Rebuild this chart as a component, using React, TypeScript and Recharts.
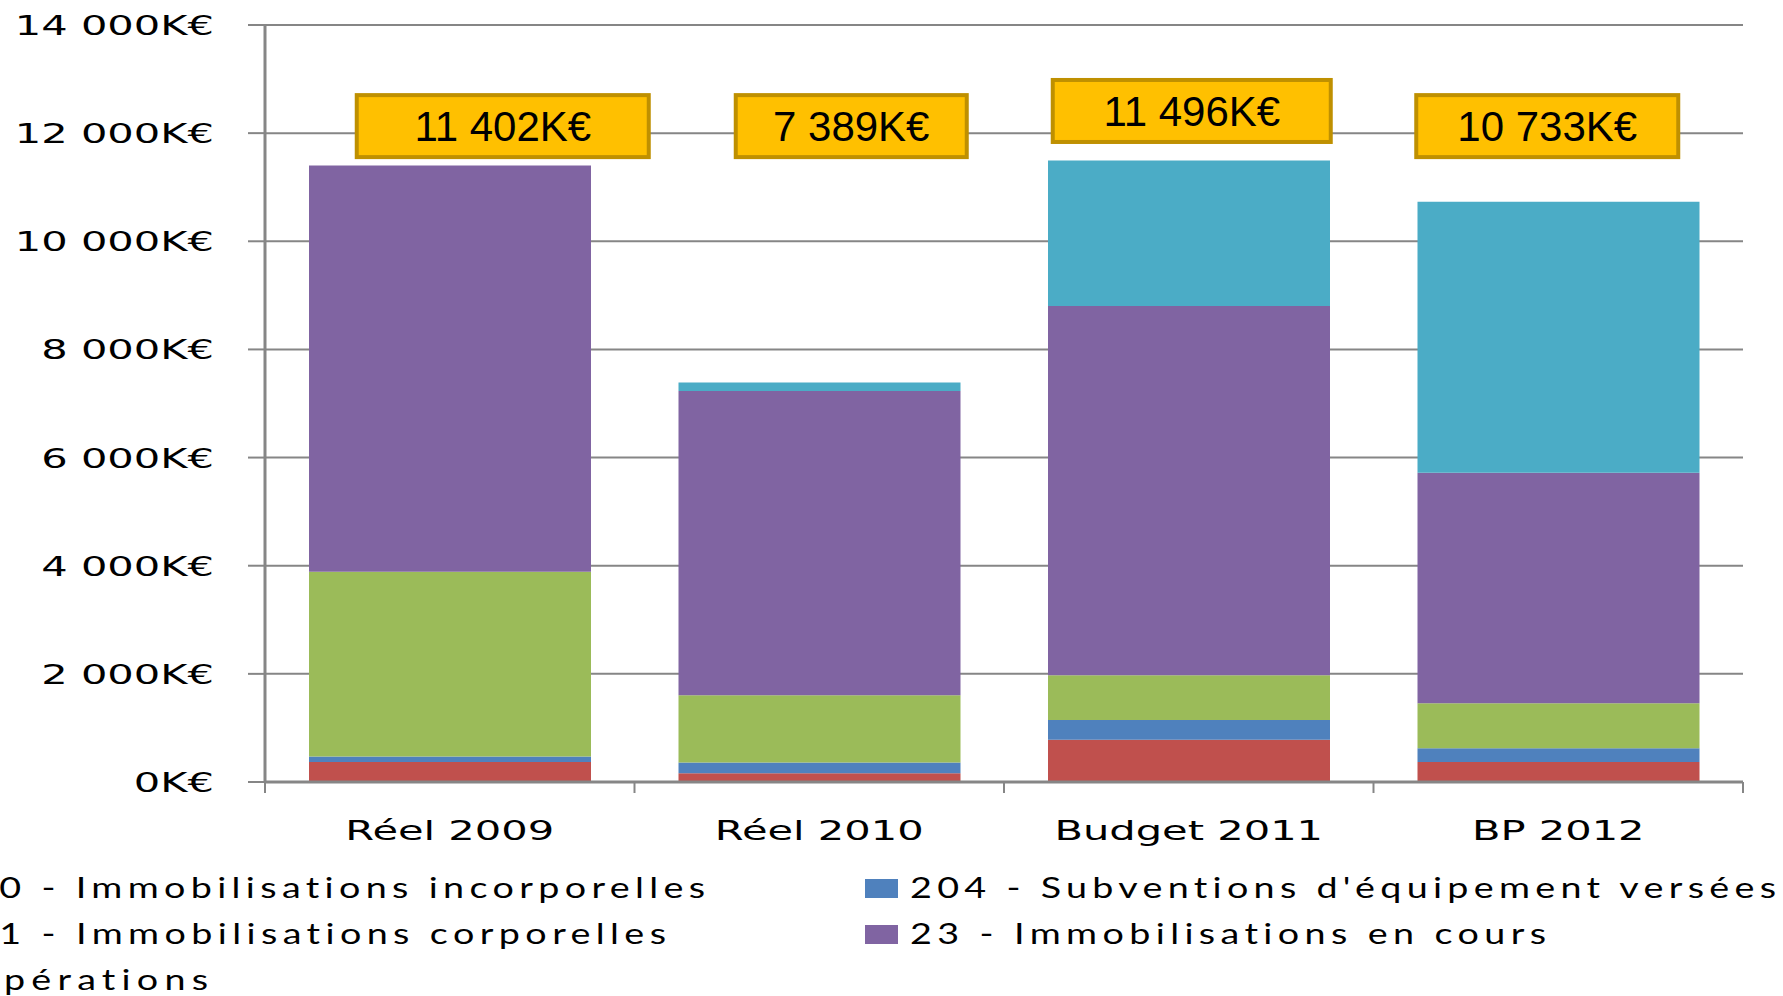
import React from 'react'
import {
  BarChart,
  Bar,
  XAxis,
  YAxis,
  CartesianGrid,
  ReferenceDot,
} from 'recharts'

const categories = ['Réel 2009', 'Réel 2010', 'Budget 2011', 'BP 2012']
const incorporelles = [370, 160, 780, 370]
const subventions = [100, 200, 365, 255]
const corporelles = [3419, 1245, 830, 830]
const enCours = [7513, 5625, 6830, 4265]
const operations = [0, 159, 2691, 5013]
const totals = [11402, 7389, 11496, 10733]
// level (in K€) where each total box sits
const labelLevels = [12130, 12130, 12410, 12130]
const yTicks = [0, 2000, 4000, 6000, 8000, 10000, 12000, 14000]

const seriesNames = [
  '20 - Immobilisations incorporelles',
  '204 - Subventions d\'équipement versées',
  '21 - Immobilisations corporelles',
  '23 - Immobilisations en cours',
  'Opérations',
]

const COLORS = ['#C0504D', '#4F81BD', '#9BBB59', '#8064A2', '#4BACC6']
const GRID = '#868686'
// box look per category (horizontal shift and width in px)
const BOX_SHIFT = [53, 32, 3, -11]
const BOX_WIDTH = [292, 231, 278, 262]
const LEGEND_STRETCH = 1.3

const data = categories.map((c, i) => ({
  name: c,
  incorporelles: incorporelles[i],
  subventions: subventions[i],
  corporelles: corporelles[i],
  enCours: enCours[i],
  operations: operations[i],
}))

function formatK(v: number): string {
  const s = String(v)
  if (v >= 1000) return `${s.slice(0, s.length - 3)} ${s.slice(-3)}K€`
  return `${s}K€`
}

function YTick(props: any) {
  const { x, y, payload } = props
  return (
    <g transform={`translate(${x},${y + 10})`}>
      <text
        x={0}
        y={0}
        transform="scale(1.6,1)"
        textAnchor="end"
        fontFamily="DejaVu Sans"
        fontSize={26}
        fill="#000"
      >
        {formatK(payload.value)}
      </text>
    </g>
  )
}

// category label + Excel-style tick marks between categories
function XTick(props: any) {
  const { x, y, payload, index } = props
  const half = payload.offset || 0
  const last = index === categories.length - 1
  return (
    <g>
      <line x1={x - half} x2={x - half} y1={y} y2={y + 11} stroke={GRID} strokeWidth={2} />
      {last && (
        <line x1={x + half} x2={x + half} y1={y} y2={y + 11} stroke={GRID} strokeWidth={2} />
      )}
      <g transform={`translate(${x},${y + 58})`}>
        <text
          x={0}
          y={0}
          transform="scale(1.6,1)"
          textAnchor="middle"
          fontFamily="DejaVu Sans"
          fontSize={26}
          fill="#000"
        >
          {payload.value}
        </text>
      </g>
    </g>
  )
}

function TotalBox(i: number) {
  return (p: any) => {
    const cx = p.cx + BOX_SHIFT[i]
    const w = BOX_WIDTH[i]
    return (
      <g>
        <rect
          x={cx - w / 2}
          y={p.cy - 31}
          width={w}
          height={62}
          fill="#FFC000"
          stroke="#BF9000"
          strokeWidth={4}
        />
        <text
          x={cx}
          y={p.cy + 15}
          textAnchor="middle"
          fontFamily="Liberation Sans"
          fontSize={42}
          fill="#000"
        >
          {formatK(totals[i])}
        </text>
      </g>
    )
  }
}

const legendItems = [
  { x: -28, y: 898, w: 733, idx: 0 },
  { x: 910, y: 898, w: 866, idx: 1 },
  { x: -28, y: 944, w: 694, idx: 2 },
  { x: 910, y: 944, w: 636, idx: 3 },
  { x: -32, y: 990, w: 240, idx: 4 },
]

function LegendOverlay() {
  return (
    <svg
      width={1783}
      height={996}
      style={{ position: 'absolute', left: 0, top: 0, pointerEvents: 'none' }}
    >
      {legendItems.map((it) => (
        <g key={it.idx}>
          <rect x={it.x - 45} y={it.y - 19} width={33} height={19} fill={COLORS[it.idx]} />
          <g transform={`translate(${it.x},${it.y}) scale(${LEGEND_STRETCH},1)`}>
            <text
              x={0}
              y={0}
              textLength={it.w / LEGEND_STRETCH}
              lengthAdjust="spacing"
              fontFamily="Lato"
              fontSize={29}
              fill="#000"
              style={{ fontVariantLigatures: 'none' }}
            >
              {seriesNames[it.idx]}
            </text>
          </g>
        </g>
      ))}
    </svg>
  )
}

export default function App() {
  return (
    <div
      style={{
        position: 'absolute',
        left: 0,
        top: 0,
        width: 1783,
        height: 996,
        overflow: 'hidden',
        background: '#fff',
      }}
    >
      <BarChart
        width={1783}
        height={996}
        data={data}
        margin={{ top: 25, right: 40, left: 0, bottom: 0 }}
        barSize={282}
      >
        <CartesianGrid horizontal vertical={false} stroke={GRID} strokeWidth={2} />
        <XAxis
          dataKey="name"
          height={214}
          axisLine={{ stroke: GRID, strokeWidth: 3 }}
          tickLine={false}
          tickSize={0}
          tickMargin={0}
          tick={<XTick />}
          interval={0}
        />
        <YAxis
          width={265}
          domain={[0, 14000]}
          ticks={yTicks}
          axisLine={{ stroke: GRID, strokeWidth: 3 }}
          tickLine={{ stroke: GRID, strokeWidth: 2 }}
          tickSize={17}
          tickMargin={34}
          tick={<YTick />}
          interval={0}
        />
        <Bar dataKey="incorporelles" stackId="a" fill={COLORS[0]} isAnimationActive={false} />
        <Bar dataKey="subventions" stackId="a" fill={COLORS[1]} isAnimationActive={false} />
        <Bar dataKey="corporelles" stackId="a" fill={COLORS[2]} isAnimationActive={false} />
        <Bar dataKey="enCours" stackId="a" fill={COLORS[3]} isAnimationActive={false} />
        <Bar dataKey="operations" stackId="a" fill={COLORS[4]} isAnimationActive={false} />
        {categories.map((c, i) => (
          <ReferenceDot
            key={c}
            x={c}
            y={labelLevels[i]}
            r={1}
            ifOverflow="visible"
            shape={TotalBox(i)}
          />
        ))}
      </BarChart>
      <LegendOverlay />
    </div>
  )
}
